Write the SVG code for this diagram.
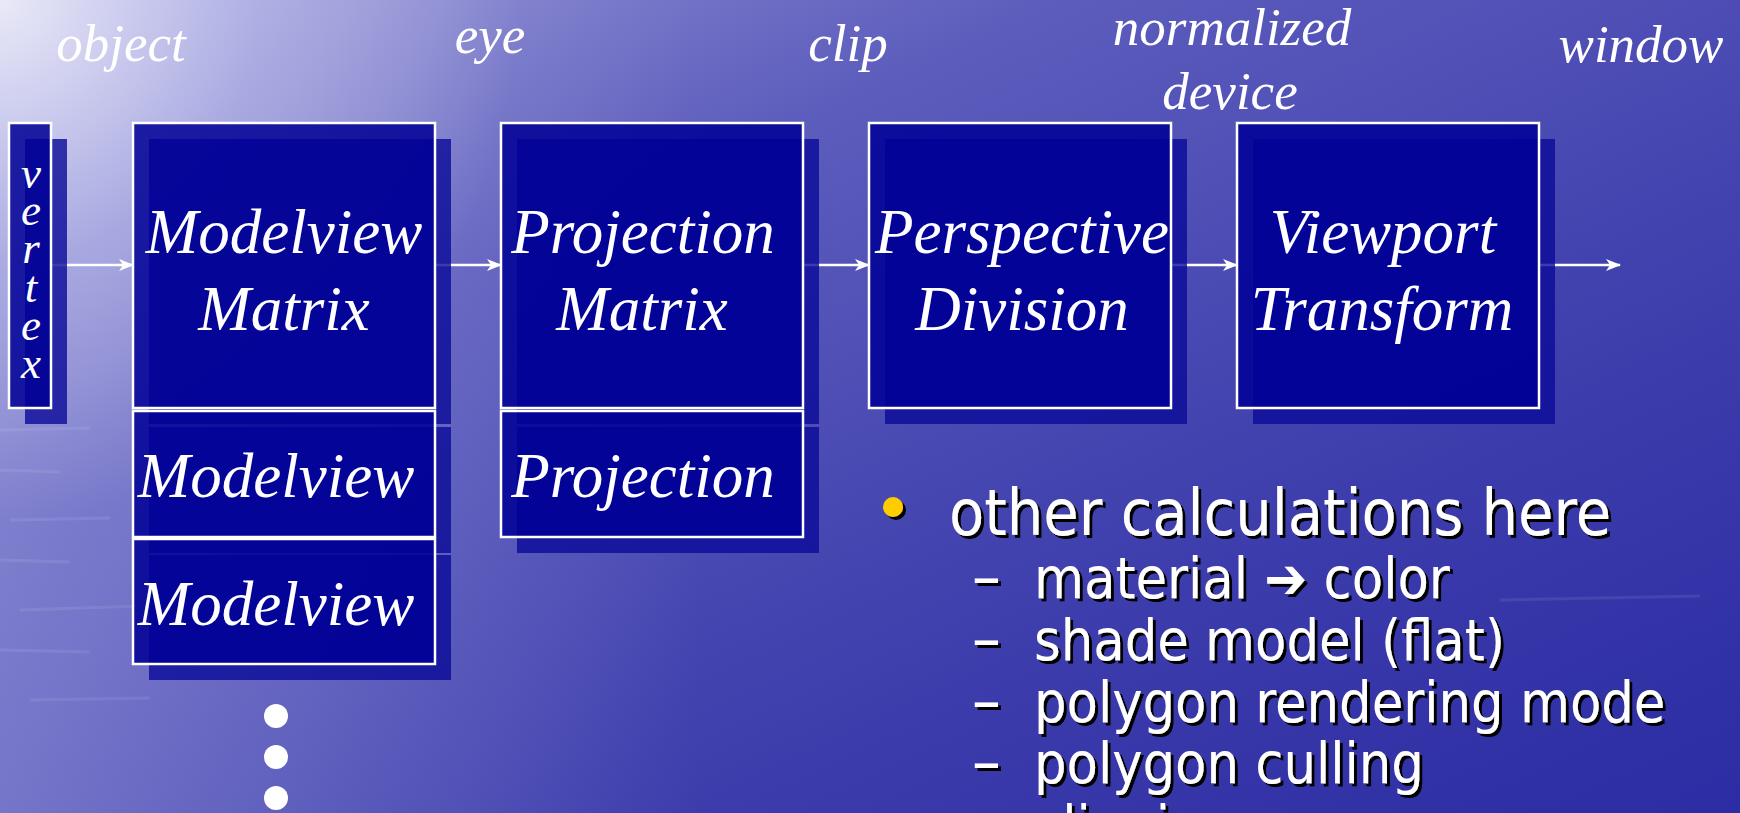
<svg xmlns="http://www.w3.org/2000/svg" width="1740" height="813" viewBox="0 0 1740 813">
<defs>
<linearGradient id="bg" x1="0" y1="0" x2="1" y2="1">
<stop offset="0" stop-color="#9a9ad8"/>
<stop offset="0.3" stop-color="#5d5dbd"/>
<stop offset="0.7" stop-color="#3c3cac"/>
<stop offset="1" stop-color="#2c2ca4"/>
</linearGradient>
<radialGradient id="hl" cx="0" cy="0" r="520" gradientUnits="userSpaceOnUse">
<stop offset="0" stop-color="#ffffff" stop-opacity="0.75"/>
<stop offset="0.5" stop-color="#e8e8ff" stop-opacity="0.3"/>
<stop offset="1" stop-color="#ffffff" stop-opacity="0"/>
</radialGradient>
<linearGradient id="leftglow" x1="0" y1="0" x2="1" y2="0">
<stop offset="0" stop-color="#c0c0f0" stop-opacity="0.35"/>
<stop offset="1" stop-color="#c0c0f0" stop-opacity="0"/>
</linearGradient>
<marker id="ah" viewBox="0 0 15 14" refX="14" refY="7" markerWidth="15" markerHeight="14" markerUnits="userSpaceOnUse" orient="auto">
<path d="M0,1 L15,7 L0,13 L4,7 Z" fill="#ffffff"/>
</marker>
<filter id="sh" x="-5%" y="-20%" width="110%" height="140%">
<feDropShadow dx="3" dy="3" stdDeviation="0" flood-color="#000000" flood-opacity="1"/>
</filter>
</defs>
<style>
.box{fill:#000096;fill-opacity:0.86;stroke:#ffffff;stroke-width:2.5}
.shd{fill:#0a0a98;fill-opacity:0.8}
.bt{font-family:"Liberation Serif","Times New Roman",serif;font-style:italic;font-size:63px;fill:#ffffff;text-anchor:middle}
.vt{font-family:"Liberation Serif","Times New Roman",serif;font-style:italic;font-size:45px;fill:#ffffff;text-anchor:middle}
.lb{font-family:"Liberation Serif","Times New Roman",serif;font-style:italic;font-size:53px;fill:#ffffff;text-anchor:middle}
.b1{font-family:"DejaVu Sans Condensed","DejaVu Sans",sans-serif;font-stretch:condensed;font-size:64px;fill:#ffffff}
.b2{font-family:"DejaVu Sans Condensed","DejaVu Sans",sans-serif;font-stretch:condensed;font-size:57px;fill:#ffffff}
.dash{font-family:"DejaVu Sans Condensed","DejaVu Sans",sans-serif;font-stretch:condensed;font-size:64px;fill:#ffffff}
.cn{stroke:#ffffff;stroke-width:2.5;fill:none;marker-end:url(#ah)}
</style>
<rect x="0" y="0" width="1740" height="813" fill="url(#bg)"/>
<rect x="0" y="0" width="700" height="813" fill="url(#leftglow)"/>
<rect x="0" y="0" width="1740" height="813" fill="url(#hl)"/>
<g opacity="0.08" stroke="#ffffff" stroke-width="3">
<path d="M0,430 L90,428 M0,470 L60,472 M10,520 L110,518 M0,560 L70,562 M20,610 L140,606 M0,650 L90,652 M30,700 L150,698 M1500,600 L1700,596"/>
</g>

<g id="connectors">
<line class="cn" x1="51" y1="265" x2="133" y2="265"/>
<line class="cn" x1="435" y1="265" x2="501" y2="265"/>
<line class="cn" x1="803" y1="265" x2="869" y2="265"/>
<line class="cn" x1="1171" y1="265" x2="1237" y2="265"/>
<line class="cn" x1="1539" y1="265" x2="1620" y2="265"/>
</g>

<g id="vertex">
<rect class="shd" x="25" y="139" width="42" height="285"/>
<rect class="box" x="9" y="123" width="42" height="285"/>
<text class="vt" x="31" y="188">v</text>
<text class="vt" x="31" y="225">e</text>
<text class="vt" x="31" y="263">r</text>
<text class="vt" x="31" y="302">t</text>
<text class="vt" x="31" y="340">e</text>
<text class="vt" x="31" y="378">x</text>
</g>

<g id="modelview-matrix">
<rect class="shd" x="149" y="139" width="302" height="285"/>
<rect class="box" x="133" y="123" width="302" height="285"/>
<text class="bt" x="284" y="253">Modelview</text>
<text class="bt" x="284" y="330">Matrix</text>
</g>

<g id="modelview-stack-1">
<rect class="shd" x="149" y="427" width="302" height="126"/>
<rect class="box" x="133" y="411" width="302" height="126"/>
<text class="bt" x="276" y="497">Modelview</text>
</g>

<g id="modelview-stack-2">
<rect class="shd" x="149" y="555" width="302" height="125"/>
<rect class="box" x="133" y="539" width="302" height="125"/>
<text class="bt" x="276" y="625">Modelview</text>
</g>

<g id="ellipsis" fill="#ffffff">
<circle cx="276" cy="716" r="12"/>
<circle cx="276" cy="757" r="12"/>
<circle cx="276" cy="798" r="12"/>
</g>

<g id="projection-matrix">
<rect class="shd" x="517" y="139" width="302" height="285"/>
<rect class="box" x="501" y="123" width="302" height="285"/>
<text class="bt" x="643" y="253">Projection</text>
<text class="bt" x="642" y="330">Matrix</text>
</g>

<g id="projection-stack">
<rect class="shd" x="517" y="427" width="302" height="126"/>
<rect class="box" x="501" y="411" width="302" height="126"/>
<text class="bt" x="643" y="497">Projection</text>
</g>

<g id="perspective-division">
<rect class="shd" x="885" y="139" width="302" height="285"/>
<rect class="box" x="869" y="123" width="302" height="285"/>
<text class="bt" x="1022" y="253">Perspective</text>
<text class="bt" x="1022" y="330">Division</text>
</g>

<g id="viewport-transform">
<rect class="shd" x="1253" y="139" width="302" height="285"/>
<rect class="box" x="1237" y="123" width="302" height="285"/>
<text class="bt" x="1383" y="253">Viewport</text>
<text class="bt" x="1382" y="330">Transform</text>
</g>

<g id="labels">
<text class="lb" x="121" y="61">object</text>
<text class="lb" x="490" y="53">eye</text>
<text class="lb" x="848" y="61">clip</text>
<text class="lb" x="1232" y="45">normalized</text>
<text class="lb" x="1230" y="109">device</text>
<text class="lb" x="1641" y="62">window</text>
</g>

<g id="notes" filter="url(#sh)">
<circle cx="893" cy="507" r="10" fill="#ffcc00"/>
<text class="b1" x="949" y="535">other calculations here</text>
<text class="dash" x="972" y="598">–</text>
<text class="b2" x="1034" y="598">material ➔ color</text>
<text class="dash" x="972" y="660">–</text>
<text class="b2" x="1034" y="660">shade model (flat)</text>
<text class="dash" x="972" y="722">–</text>
<text class="b2" x="1034" y="722">polygon rendering mode</text>
<text class="dash" x="972" y="783">–</text>
<text class="b2" x="1034" y="783">polygon culling</text>
<text class="dash" x="972" y="846">–</text>
<text class="b2" x="1034" y="846">clipping</text>
</g>
</svg>
